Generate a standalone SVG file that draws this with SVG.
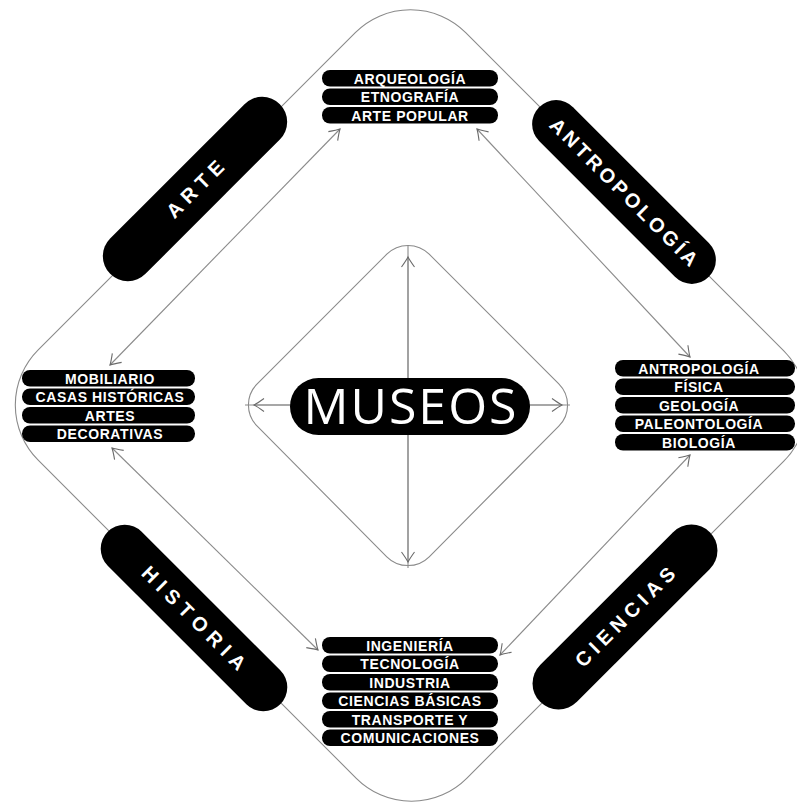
<svg xmlns="http://www.w3.org/2000/svg" width="797" height="804" viewBox="0 0 797 804">
<style>
.ln{fill:none;stroke:#8a8a8a;stroke-width:1.1}
.ar{fill:none;stroke:#8a8a8a;stroke-width:1.1;marker-start:url(#ah);marker-end:url(#ah)}
.pill{fill:#000}
.pt{fill:#fff;font-family:"Liberation Sans",Arial,sans-serif;font-weight:bold;font-size:20px;text-anchor:middle}
.bar{fill:#000}
.bt{fill:#fff;font-family:"Liberation Sans",Arial,sans-serif;font-weight:bold;font-size:14px;letter-spacing:0.6px;text-anchor:middle}
.mt{fill:#fff;font-family:"Open Sans","Noto Sans",sans-serif;font-size:50px;letter-spacing:2px;text-anchor:middle}
</style>
<defs>
<marker id="ah" viewBox="-12 -8 14 16" refX="0" refY="0" markerWidth="14" markerHeight="16" markerUnits="userSpaceOnUse" orient="auto-start-reverse">
<path d="M-10,-6.5 Q-3,-1.5 0,0 Q-3,1.5 -10,6.5" fill="none" stroke="#6a6a6a" stroke-width="1.1"/>
</marker>
</defs>
<rect width="797" height="804" fill="#fff"/>
<g id="connectors">
<path class="ln" d="M355.3,32.7 A78,78 0 0 1 465.7,32.7 L783.8,350.8 A78,78 0 0 1 783.8,461.2 L466.7,778.3 A78,78 0 0 1 356.3,778.3 L38.2,460.2 A78,78 0 0 1 38.2,349.8 Z"/>
<path class="ln" d="M386.8,254.2 A30,30 0 0 1 429.2,254.2 L558.8,383.8 A30,30 0 0 1 558.8,426.2 L429.2,556.8 A30,30 0 0 1 386.8,556.8 L257.2,426.2 A30,30 0 0 1 257.2,383.8 Z"/>
<line class="ln" x1="408" y1="245" x2="408" y2="568"/>
<line class="ln" x1="245" y1="405" x2="570" y2="405"/>
<line class="ar" x1="408" y1="257" x2="408" y2="562"/>
<line class="ar" x1="254" y1="405" x2="562" y2="405"/>
<line class="ar" x1="340" y1="129" x2="110" y2="365"/>
<line class="ar" x1="477" y1="129" x2="690" y2="357"/>
<line class="ar" x1="112" y1="448" x2="318" y2="650"/>
<line class="ar" x1="690" y1="455" x2="500" y2="655"/>
</g>
<g id="arte" transform="translate(195,189) rotate(-45)">
<rect class="pill" x="-120" y="-25" width="240" height="50" rx="25"/>
<text class="pt" x="0" y="7" textLength="72" lengthAdjust="spacing">ARTE</text>
</g>
<g id="antropologia" transform="translate(624,192) rotate(45)">
<rect class="pill" x="-120" y="-24" width="240" height="48" rx="24"/>
<text class="pt" x="0" y="7" textLength="200" lengthAdjust="spacing">ANTROPOLOGÍA</text>
</g>
<g id="historia" transform="translate(194,618) rotate(45)">
<rect class="pill" x="-122" y="-24" width="244" height="48" rx="24"/>
<text class="pt" x="0" y="7" textLength="138" lengthAdjust="spacing">HISTORIA</text>
</g>
<g id="ciencias" transform="translate(625,617) rotate(-45)">
<rect class="pill" x="-120" y="-26" width="240" height="52" rx="26"/>
<text class="pt" x="0" y="7" textLength="132" lengthAdjust="spacing">CIENCIAS</text>
</g>
<g id="museos">
<rect class="pill" x="290" y="378" width="240" height="57" rx="28.5"/>
<text class="mt" x="411" y="424">MUSEOS</text>
</g>
<g id="box-top">
<rect class="bar" x="322" y="70" width="176" height="16.5" rx="8"/>
<rect class="bar" x="322" y="88.5" width="176" height="16.5" rx="8"/>
<rect class="bar" x="322" y="107" width="176" height="16.5" rx="8"/>
<text class="bt" x="410" y="83.5">ARQUEOLOGÍA</text>
<text class="bt" x="410" y="102">ETNOGRAFÍA</text>
<text class="bt" x="410" y="120.5">ARTE POPULAR</text>
</g>
<g id="box-left">
<rect class="bar" x="22" y="370" width="173" height="16.5" rx="8"/>
<rect class="bar" x="22" y="388.5" width="173" height="16.5" rx="8"/>
<rect class="bar" x="22" y="407" width="173" height="16.5" rx="8"/>
<rect class="bar" x="22" y="425.5" width="173" height="16.5" rx="8"/>
<text class="bt" x="110" y="383.5">MOBILIARIO</text>
<text class="bt" x="110" y="402">CASAS HISTÓRICAS</text>
<text class="bt" x="110" y="420.5">ARTES</text>
<text class="bt" x="110" y="439">DECORATIVAS</text>
</g>
<g id="box-right">
<rect class="bar" x="615" y="360" width="180" height="16.5" rx="8"/>
<rect class="bar" x="615" y="378.5" width="180" height="16.5" rx="8"/>
<rect class="bar" x="615" y="397" width="180" height="16.5" rx="8"/>
<rect class="bar" x="615" y="415.5" width="180" height="16.5" rx="8"/>
<rect class="bar" x="615" y="434" width="180" height="16.5" rx="8"/>
<text class="bt" x="699" y="373.5">ANTROPOLOGÍA</text>
<text class="bt" x="699" y="392">FÍSICA</text>
<text class="bt" x="699" y="410.5">GEOLOGÍA</text>
<text class="bt" x="699" y="429">PALEONTOLOGÍA</text>
<text class="bt" x="699" y="447.5">BIOLOGÍA</text>
</g>
<g id="box-bottom">
<rect class="bar" x="322" y="637" width="176" height="16.5" rx="8"/>
<rect class="bar" x="322" y="655.5" width="176" height="16.5" rx="8"/>
<rect class="bar" x="322" y="674" width="176" height="16.5" rx="8"/>
<rect class="bar" x="322" y="692.5" width="176" height="16.5" rx="8"/>
<rect class="bar" x="322" y="711" width="176" height="16.5" rx="8"/>
<rect class="bar" x="322" y="729.5" width="176" height="16.5" rx="8"/>
<text class="bt" x="410" y="650.5">INGENIERÍA</text>
<text class="bt" x="410" y="669">TECNOLOGÍA</text>
<text class="bt" x="410" y="687.5">INDUSTRIA</text>
<text class="bt" x="410" y="706">CIENCIAS BÁSICAS</text>
<text class="bt" x="410" y="724.5">TRANSPORTE Y</text>
<text class="bt" x="410" y="743">COMUNICACIONES</text>
</g>
</svg>
